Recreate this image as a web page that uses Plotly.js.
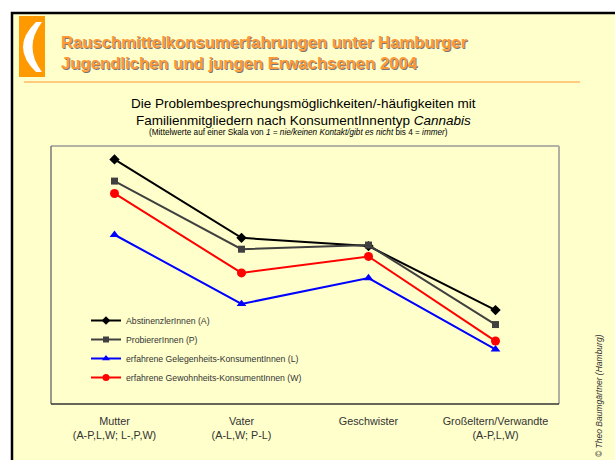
<!DOCTYPE html>
<html>
<head>
<meta charset="utf-8">
<script src="https://cdn.plot.ly/plotly-3.0.1.min.js"></script>
<style>html,body{margin:0;padding:0;background:#fff;}#chart{width:615px;height:460px;}</style>
</head>
<body>
<div id="chart"></div>
<script>
// ---- data ----
const categories = ["Mutter<br>(A-P,L,W; L-,P,W)", "Vater<br>(A-L,W; P-L)", "Geschwister", "Großeltern/Verwandte<br>(A-P,L,W)"];
const seriesNames = ["AbstinenzlerInnen (A)", "ProbiererInnen (P)", "erfahrene Gelegenheits-KonsumentInnen (L)", "erfahrene Gewohnheits-KonsumentInnen (W)"];
const valuesA = [3.37, 2.61, 2.53, 1.91];
const valuesP = [3.16, 2.50, 2.54, 1.77];
const valuesL = [2.64, 1.97, 2.22, 1.53];
const valuesW = [3.04, 2.27, 2.43, 1.61];

// ---- layout helpers (page pixels -> paper fractions) ----
const L = 51, R = 559, T = 146, B = 404;
const W = 615, H = 460;
function px(x){ return (x - L) / (R - L); }
function py(y){ return (B - y) / (B - T); }
function path(pts){
  return pts.map(p => typeof p === 'string' ? p : px(p[0]).toFixed(5) + ',' + py(p[1]).toFixed(5)).join(' ');
}

const styles = [
  {color:'#000000', symbol:'diamond', size:8, lsize:6.5},
  {color:'#404040', symbol:'square', size:7, lsize:6},
  {color:'#0000FF', symbol:'triangle-up', size:8.5, lsize:7},
  {color:'#FF0000', symbol:'circle', size:9, lsize:7}
];
const allValues = [valuesA, valuesP, valuesL, valuesW];

const traces = [];
allValues.forEach((v, i) => {
  traces.push({
    type:'scatter', mode:'lines+markers',
    x: categories, y: v, name: seriesNames[i], showlegend:false, legendgroup:'g'+i,
    line:{color:styles[i].color, width:2},
    marker:{color:styles[i].color, symbol:styles[i].symbol, size:styles[i].size},
    cliponaxis:false
  });
});
// legend entries (smaller symbols, as in the original legend)
allValues.forEach((v, i) => {
  traces.push({
    type:'scatter', mode:'lines+markers',
    x:[null], y:[null], name: seriesNames[i], showlegend:true, legendgroup:'g'+i,
    line:{color:styles[i].color, width:2},
    marker:{color:styles[i].color, symbol:styles[i].symbol, size:styles[i].lsize}
  });
});

const arcPath = path(['M',[36,22],'Q',[10,47],[36,72],'L',[42,72],'Q',[23,47],[42,22],'Z']);

const shapes = [
  {type:'rect', xref:'paper', yref:'paper', x0:px(12), x1:px(650), y0:py(13), y1:py(500),
   fillcolor:'#FFFFCC', line:{color:'#000', width:2.5}, layer:'below'},
  {type:'rect', xref:'paper', yref:'paper', x0:px(19), x1:px(45), y0:py(16), y1:py(77),
   fillcolor:'#FF9900', line:{width:0}, layer:'below'},
  {type:'path', xref:'paper', yref:'paper', path:arcPath, fillcolor:'#FFFFFF', line:{width:0}, layer:'below'},
  {type:'line', xref:'paper', yref:'paper', x0:px(24), x1:px(580), y0:py(82), y1:py(82),
   line:{color:'#FF9933', width:1.2}, layer:'below'},
  {type:'line', xref:'paper', yref:'paper', x0:0, x1:1, y0:1, y1:1, line:{color:'#999999', width:1.5}},
  {type:'line', xref:'paper', yref:'paper', x0:1, x1:1, y0:0, y1:1, line:{color:'#B0B0A0', width:2}},
  {type:'line', xref:'paper', yref:'paper', x0:0, x1:0, y0:0, y1:1, line:{color:'#777777', width:1.5}},
  {type:'line', xref:'paper', yref:'paper', x0:0, x1:1, y0:0, y1:0, line:{color:'#333333', width:1.5}}
];

const FF = 'Arial, Liberation Sans, sans-serif';
const titleFont = {family:FF, size:16.7, color:'#FF9933', weight:'bold', shadow:'1px 1px 0px #777'};
const subFont = {family:FF, size:13.5, color:'#000'};
const annotations = [
  {xref:'paper', yref:'paper', x:px(59), y:py(43), xanchor:'left', yanchor:'middle', showarrow:false,
   text:'<b>Rauschmittelkonsumerfahrungen unter Hamburger</b>', font:titleFont},
  {xref:'paper', yref:'paper', x:px(59), y:py(63), xanchor:'left', yanchor:'middle', showarrow:false,
   text:'<b>Jugendlichen und jungen Erwachsenen 2004</b>', font:titleFont},
  {xref:'paper', yref:'paper', x:px(303), y:py(104), xanchor:'center', yanchor:'middle', showarrow:false,
   text:'Die Problembesprechungsmöglichkeiten/-häufigkeiten mit', font:subFont},
  {xref:'paper', yref:'paper', x:px(303), y:py(120), xanchor:'center', yanchor:'middle', showarrow:false,
   text:'Familienmitgliedern nach KonsumentInnentyp <i>Cannabis</i>', font:subFont},
  {xref:'paper', yref:'paper', x:px(298), y:py(132.5), xanchor:'center', yanchor:'middle', showarrow:false,
   text:'(Mittelwerte auf einer Skala von <i>1 = nie/keinen Kontakt/gibt es nicht</i> bis 4 = <i>immer</i>)',
   font:{family:FF, size:8.2, color:'#000'}},
  {xref:'paper', yref:'paper', x:px(599), y:py(396), xanchor:'center', yanchor:'middle', showarrow:false,
   textangle:-90, text:'<i>© Theo Baumgärtner (Hamburg)</i>',
   font:{family:FF, size:8.5, color:'#333'}}
];

const layout = {
  width:W, height:H, autosize:false,
  margin:{l:L, r:W-R, t:T, b:H-B, pad:0},
  paper_bgcolor:'#FFFFFF', plot_bgcolor:'rgba(0,0,0,0)',
  showlegend:true,
  legend:{x:px(86), y:py(306), xanchor:'left', yanchor:'top', bgcolor:'rgba(0,0,0,0)',
          font:{family:FF, size:8.7, color:'#333'}, itemwidth:30, tracegroupgap:0},
  xaxis:{type:'category', range:[-0.5, 3.5], showgrid:false, zeroline:false, showline:false, ticks:'',
         ticklabelstandoff:9, tickfont:{family:FF, size:10.8, color:'#333'}, fixedrange:true},
  yaxis:{range:[1, 3.5], visible:false, showgrid:false, zeroline:false, fixedrange:true},
  shapes:shapes, annotations:annotations
};

Plotly.newPlot('chart', traces, layout, {displayModeBar:false, staticPlot:true});
</script>
</body>
</html>
